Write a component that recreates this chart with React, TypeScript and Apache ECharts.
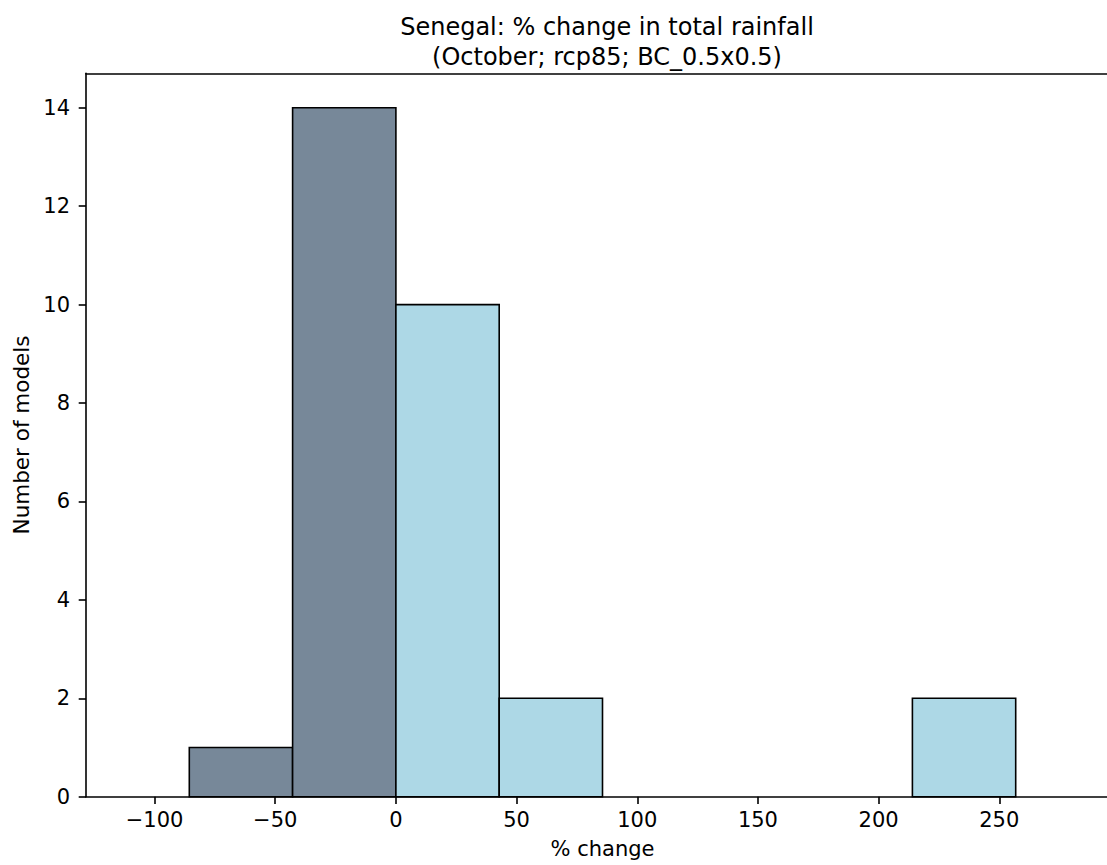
import React, { useEffect, useRef } from "react";
import * as echarts from "echarts";

// Histogram data (bin edges in % change, counts of models per bin)
const binEdges = [-128.4, -85.6, -42.8, 0, 42.8, 85.6, 128.4, 171.2, 214, 256.8, 299.6];
const counts = [0, 1, 14, 10, 2, 0, 0, 0, 2, 0];
const xTicks = [-100, -50, 0, 50, 100, 150, 200, 250];
const yTicks = [0, 2, 4, 6, 8, 10, 12, 14];

const titleLine1 = "Senegal: % change in total rainfall";
const titleLine2 = "(October; rcp85; BC_0.5x0.5)";
const xName = "% change";
const yName = "Number of models";

const NEG_COLOR = "#778899";
const POS_COLOR = "#ADD8E6";
const FONT = "DejaVu Sans";

export default function App() {
  const ref = useRef<HTMLDivElement>(null);

  useEffect(() => {
    if (!ref.current) return;
    const chart = echarts.init(ref.current, null, { renderer: "svg" });

    const data = counts.map((c, i) => [binEdges[i], binEdges[i + 1], c]);

    const fmt = (v: number) => (v < 0 ? "\u2212" + Math.abs(v) : String(v));
    const spine = { color: "#000", width: 1.6 };

    chart.setOption({
      animation: false,
      backgroundColor: "#fff",
      title: {
        text: titleLine1 + "\n" + titleLine2,
        left: 602,
        textAlign: "center",
        top: 7,
        textStyle: {
          fontFamily: FONT,
          fontSize: 24,
          fontWeight: "normal",
          color: "#000",
          lineHeight: 30,
        },
      },
      grid: {
        left: 86,
        top: 73.3,
        width: 1033,
        height: 723.4,
        show: false,
        containLabel: false,
        outerBoundsMode: "none",
      },
      xAxis: [
        {
          type: "value",
          min: binEdges[0],
          max: binEdges[binEdges.length - 1],
          name: xName,
          nameLocation: "middle",
          nameGap: 42,
          nameTextStyle: { fontFamily: FONT, fontSize: 21, color: "#000" },
          splitLine: { show: false },
          axisLine: { show: true, onZero: false, lineStyle: spine },
          axisTick: {
            show: true,
            length: 7.3,
            customValues: xTicks,
            lineStyle: spine,
          },
          axisLabel: {
            customValues: xTicks,
            formatter: fmt,
            fontFamily: FONT,
            fontSize: 21,
            color: "#000",
            margin: 13,
          },
        },
        {
          type: "value",
          position: "top",
          min: binEdges[0],
          max: binEdges[binEdges.length - 1],
          splitLine: { show: false },
          axisLine: { show: true, onZero: false, lineStyle: spine },
          axisTick: { show: false },
          axisLabel: { show: false },
        },
      ],
      yAxis: {
        type: "value",
        min: 0,
        max: 14.7,
        name: yName,
        nameLocation: "middle",
        nameGap: 53,
        nameTextStyle: { fontFamily: FONT, fontSize: 21.5, color: "#000" },
        splitLine: { show: false },
        axisLine: { show: true, onZero: false, lineStyle: spine },
        axisTick: {
          show: true,
          length: 7.3,
          customValues: yTicks,
          lineStyle: spine,
        },
        axisLabel: {
          customValues: yTicks,
          fontFamily: FONT,
          fontSize: 21,
          color: "#000",
          margin: 16,
        },
      },
      series: [
        {
          type: "custom",
          data,
          xAxisIndex: 0,
          encode: { x: [0, 1], y: 2 },
          renderItem: (params: any, api: any) => {
            const x0 = api.value(0);
            const x1 = api.value(1);
            const c = api.value(2);
            if (!c) return null;
            const p0 = api.coord([x0, 0]);
            const p1 = api.coord([x1, c]);
            return {
              type: "rect",
              shape: {
                x: p0[0],
                y: p1[1],
                width: p1[0] - p0[0],
                height: p0[1] - p1[1],
              },
              style: {
                fill: x1 <= 0 ? NEG_COLOR : POS_COLOR,
                stroke: "#000",
                lineWidth: 1.6,
              },
            };
          },
        },
      ],
    });

    return () => chart.dispose();
  }, []);

  return (
    <div
      ref={ref}
      style={{ position: "absolute", left: 0, top: 0, width: 1107, height: 865 }}
    />
  );
}
